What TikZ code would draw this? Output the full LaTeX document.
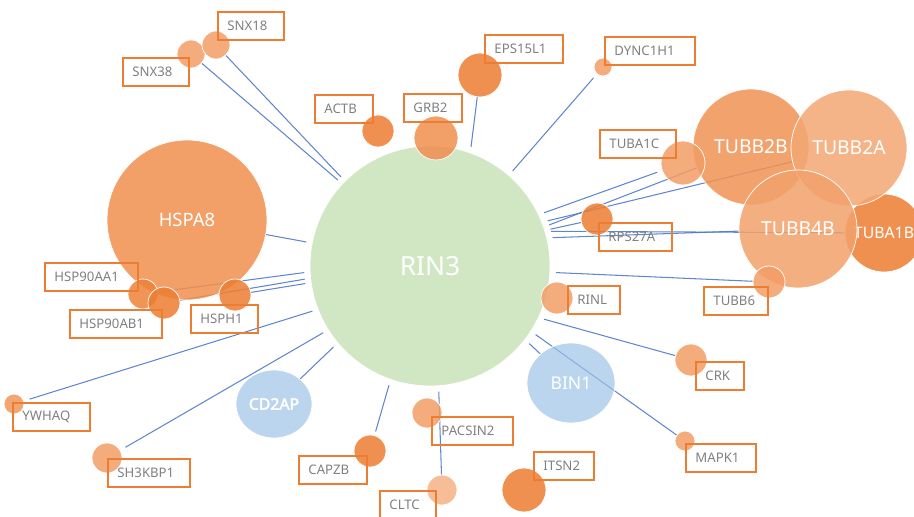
\documentclass[tikz,border=0pt]{standalone}
\usepackage{fontspec}
\setmainfont{Noto Sans}
\newfontfamily\heavysans[FakeBold=2.5]{Noto Sans}
\usetikzlibrary{shapes.geometric,backgrounds}
\definecolor{genor}{RGB}{237,125,49}
\definecolor{hubgreen}{RGB}{197,224,180}
\definecolor{partblue}{RGB}{157,195,230}
\definecolor{linkblue}{RGB}{68,114,196}

\begin{document}
\begin{tikzpicture}[x=0.02cm, y=-0.02cm,
    bub/.style={circle, draw=white, line width=0.4pt, fill=genor, fill opacity=0.85, text opacity=1, text=white, inner sep=0pt},
    oval/.style={ellipse, draw=white, line width=0.4pt, fill=partblue, fill opacity=0.7, text opacity=1, text=white, inner sep=0pt},
    link/.style={draw=linkblue, line width=0.6pt, draw opacity=0.85},
    tag/.style={draw=genor, line width=1.1pt, text=black!50, anchor=north west, inner xsep=0.19cm, inner ysep=0pt, minimum height=0.57cm, align=left, font=\fontsize{7.5}{9}\selectfont}]
                \useasboundingbox (0,0) rectangle (914,517);

                % The hub
                \node[bub, fill=hubgreen, fill opacity=0.8, minimum size=4.8cm, outer sep=0.12cm, font=\fontsize{15}{18}\selectfont] (rin3) at (430,266) {RIN3};

                % big bubbles
                \node[bub, fill=genor!86, minimum size=3.2cm, font=\fontsize{10.5}{12}\selectfont] (hspa8) at (187,220) {HSPA8};
                \node[bub, fill=genor, minimum size=1.56cm, font=\fontsize{9}{11}\selectfont] (tuba1b) at (884,233) {TUBA1B};
                \node[bub, fill=genor!84, minimum size=2.32cm, font=\fontsize{11}{13}\selectfont] (tubb2b) at (751,147) {TUBB2B};
                \node[bub, fill=genor!68, minimum size=2.32cm, font=\fontsize{11}{13}\selectfont] (tubb2a) at (849,148) {TUBB2A};
                \node[bub, fill=genor!72, minimum size=2.36cm, font=\fontsize{11}{13}\selectfont] (tubb4b) at (798,229) {TUBB4B};
                \node[oval, minimum width=1.52cm, minimum height=1.36cm, font=\heavysans\fontsize{9}{11}\selectfont] (cd2ap) at (274,404) {CD2AP};
                \node[oval, minimum width=1.76cm, minimum height=1.6cm, font=\fontsize{10}{12}\selectfont] (bin1) at (571,383) {BIN1};

                % small bubbles
                \node[bub, fill=genor!75, minimum size=0.56cm] (snx38) at (191,54) {};
                \node[bub, fill=genor!75, minimum size=0.56cm] (snx18) at (216,45) {};
                \node[bub, fill=genor, minimum size=0.64cm] (actb) at (378,131) {};
                \node[bub, fill=genor!86, minimum size=0.88cm] (grb2) at (436,138) {};
                \node[bub, fill=genor, minimum size=0.88cm] (eps15l1) at (480,75) {};
                \node[bub, fill=genor!75, minimum size=0.36cm] (dync1h1) at (603,67) {};
                \node[bub, fill=genor!75, minimum size=0.88cm] (tuba1c) at (683,163) {};
                \node[bub, fill=genor, minimum size=0.64cm] (rps27a) at (597,219) {};
                \node[bub, fill=genor!75, minimum size=0.64cm] (rinl) at (557,298) {};
                \node[bub, fill=genor!75, minimum size=0.64cm] (tubb6) at (769,282) {};
                \node[bub, fill=genor!75, minimum size=0.64cm] (crk) at (691,360) {};
                \node[bub, fill=genor!75, minimum size=0.4cm] (mapk1) at (685,441) {};
                \node[bub, fill=genor, minimum size=0.88cm] (itsn2) at (524,490) {};
                \node[bub, fill=genor!75, minimum size=0.6cm] (pacsin2) at (427,413) {};
                \node[bub, fill=genor!59, minimum size=0.6cm] (cltc) at (442,490) {};
                \node[bub, fill=genor, minimum size=0.64cm] (capzb) at (370,451) {};
                \node[bub, fill=genor!75, minimum size=0.6cm] (sh3kbp1) at (107,458) {};
                \node[bub, fill=genor!81, minimum size=0.4cm] (ywhaq) at (14,404) {};
                \node[bub, fill=genor!96, minimum size=0.6cm] (hsp90aa1) at (143,294) {};
                \node[bub, fill=genor, minimum size=0.64cm] (hsp90ab1) at (164,303) {};
                \node[bub, fill=genor, minimum size=0.64cm] (hsph1) at (235,295) {};

                % links
                \begin{scope}[on background layer]
                \draw[link] (rin3.135) -- (snx18);
                \draw[link] (rin3.137) -- (snx38);
                \draw[link] (rin3.71) -- (eps15l1);
                \draw[link, shorten >=0.1cm] (rin3.49) -- (dync1h1);
                \draw[link, shorten >=0.1cm] (rin3.25) -- (tuba1c);
                \draw[link] (rin3.21) -- (tubb2a);
                \draw[link] (rin3.19) -- (tubb2b);
                \draw[link] (rin3.17) -- (rps27a);
                \draw[link] (rin3.16) -- (tuba1b);
                \draw[link] (rin3.13) -- (tubb4b);
                \draw[link] (rin3.-3) -- (tubb6);
                \draw[link] (rin3.-25) -- (crk);
                \draw[link] (rin3.-33) -- (mapk1);
                \draw[link] (rin3.-38) -- (bin1);
                \draw[link] (rin3.-86) -- (cltc);
                \draw[link, shorten >=0.08cm] (rin3.-109) -- (capzb);
                \draw[link] (rin3.220) -- (cd2ap);
                \draw[link, shorten >=0.12cm] (rin3.212) -- (sh3kbp1);
                \draw[link, shorten >=0.12cm] (rin3.201) -- (ywhaq);
                \draw[link] (rin3.188) -- (hsph1);
                \draw[link] (rin3.186) -- (hsp90ab1);
                \draw[link] (rin3.183) -- (hsp90aa1);
                \draw[link] (rin3.169) -- (hspa8);
                \end{scope}

                % labels
                \node[tag, text width=0.94cm] (lsnx18) at (217,11) {SNX18};
                \node[tag, text width=0.94cm] (lsnx38) at (122,57) {SNX38};
                \node[tag, text width=0.78cm] (lactb) at (314,94) {ACTB};
                \node[tag, text width=0.78cm] (lgrb2) at (403,93) {GRB2};
                \node[tag, text width=1.18cm] (leps15l1) at (484,34) {EPS15L1};
                \node[tag, text width=1.42cm] (ldync1h1) at (604,36) {DYNC1H1};
                \node[tag, text width=1.14cm] (ltuba1c) at (599,129) {TUBA1C};
                \node[tag, text width=1.08cm] (lrps27a) at (598,222) {RPS27A};
                \node[tag, text width=0.66cm] (lrinl) at (567,285) {RINL};
                \node[tag, text width=0.90cm] (ltubb6) at (703,286) {TUBB6};
                \node[tag, text width=0.58cm] (lcrk) at (695,361) {CRK};
                \node[tag, text width=1.02cm] (lmapk1) at (685,443) {MAPK1};
                \node[tag, text width=0.82cm] (litsn2) at (533,451) {ITSN2};
                \node[tag, text width=1.24cm] (lpacsin2) at (431,416) {PACSIN2};
                \node[tag, text width=0.74cm] (lcltc) at (379,490) {CLTC};
                \node[tag, text width=0.98cm] (lcapzb) at (298,455) {CAPZB};
                \node[tag, text width=1.26cm] (lsh3kbp1) at (107,458) {SH3KBP1};
                \node[tag, text width=1.16cm] (lywhaq) at (12,402) {YWHAQ};
                \node[tag, text width=1.48cm] (lhsp90aa1) at (44,262) {HSP90AA1};
                \node[tag, text width=1.46cm] (lhsp90ab1) at (69,309) {HSP90AB1};
                \node[tag, text width=0.96cm] (lhsph1) at (190,304) {HSPH1};
            \end{tikzpicture}
\end{document}
